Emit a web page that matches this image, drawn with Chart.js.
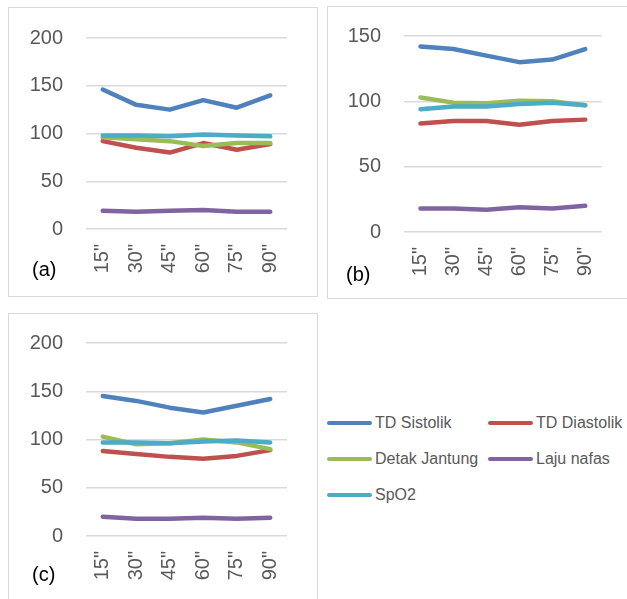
<!DOCTYPE html>
<html lang="id">
<head>
<meta charset="UTF-8">
<title>Tanda vital (a) (b) (c)</title>
<script src="https://cdn.jsdelivr.net/npm/chart.js"></script>
<style>
  * { box-sizing: border-box; margin: 0; padding: 0; }
  body { width: 627px; height: 599px; background: #fff; position: relative; overflow: hidden; font-family: "Liberation Sans", Arial, sans-serif; }
  .panel { position: absolute; border: 1.5px solid #d9d9d9; }
  .wrap { position: absolute; }
  .tag { position: absolute; font-size: 20px; color: #000; }
  .legend { position: absolute; left: 327px; top: 414px; width: 300px; font-size: 16px; color: #595959; }
  .item { position: absolute; display: flex; align-items: center; white-space: nowrap; }
  .sw { width: 45px; height: 4px; border-radius: 2px; margin-right: 3px; }
</style>
</head>
<body>
  <div class="panel" style="left:8px;top:7px;width:310px;height:290px"></div>
  <div class="panel" style="left:327px;top:6px;width:310px;height:293px"></div>
  <div class="panel" style="left:8px;top:313px;width:310px;height:300px"></div>

  <div class="wrap" style="left:9px;top:8px;width:308px;height:289px"><canvas id="chartA"></canvas></div>
  <div class="wrap" style="left:328px;top:7px;width:298px;height:291px"><canvas id="chartB"></canvas></div>
  <div class="wrap" style="left:9px;top:315px;width:308px;height:284px"><canvas id="chartC"></canvas></div>

  <div class="tag" style="left:32px;top:258px">(a)</div>
  <div class="tag" style="left:346px;top:263px">(b)</div>
  <div class="tag" style="left:32px;top:563px">(c)</div>

  <div class="legend" id="legend"></div>

<script>
const labels = ['15"', '30"', '45"', '60"', '75"', '90"'];
const seriesNames = ['TD Sistolik', 'TD Diastolik', 'Detak Jantung', 'Laju nafas', 'SpO2'];
const seriesColors = ['#4f81bd', '#c0504d', '#9bbb59', '#8064a2', '#4bacc6'];

// chart (a)
const sistolikA = [146, 130, 125, 135, 127, 140];
const diastolikA = [92, 85, 80, 90, 83, 89];
const jantungA = [96, 94, 92, 87, 90, 90];
const nafasA = [19, 18, 19, 20, 18, 18];
const spo2A = [98, 98, 97, 99, 98, 97];

// chart (b)
const sistolikB = [142, 140, 135, 130, 132, 140];
const diastolikB = [83, 85, 85, 82, 85, 86];
const jantungB = [103, 99, 98.5, 100.5, 100, 97];
const nafasB = [18, 18, 17, 19, 18, 20];
const spo2B = [94, 96, 96, 98, 99, 97];

// chart (c)
const sistolikC = [145, 140, 133, 128, 135, 142];
const diastolikC = [88, 85, 82, 80, 83, 89];
const jantungC = [103, 95, 96, 100, 97, 90];
const nafasC = [20, 18, 18, 19, 18, 19];
const spo2C = [97, 97, 96, 98, 99, 97];

function makeChart(id, series, yMax, pad, yWidth, xHeight) {
  const datasets = series.map((data, i) => ({
    label: seriesNames[i],
    data: data,
    borderColor: seriesColors[i],
    backgroundColor: seriesColors[i],
    borderWidth: 4.5,
    pointRadius: 0,
    tension: 0,
    borderJoinStyle: 'round',
    borderCapStyle: 'round',
    fill: false,
    order: 5 - i   // later series drawn on top, like Excel
  }));
  return new Chart(document.getElementById(id), {
    type: 'line',
    data: { labels, datasets },
    options: {
      responsive: true,
      maintainAspectRatio: false,
      animation: false,
      layout: { padding: pad },
      plugins: { legend: { display: false }, tooltip: { enabled: false } },
      scales: {
        x: {
          offset: true,
          grid: { display: false, drawTicks: false },
          border: { display: false },
          ticks: {
            minRotation: 90, maxRotation: 90, padding: 15,
            color: '#595959', font: { family: 'Liberation Sans', size: 20 }
          },
          afterFit: s => { s.height = xHeight; }
        },
        y: {
          min: 0, max: yMax,
          // invisible tick marks make the gap; ticks.padding would also push the plot down
          grid: { color: '#d9d9d9', lineWidth: 1.5, drawTicks: true, tickLength: 20, tickColor: 'rgba(0,0,0,0)' },
          border: { display: false },
          ticks: {
            stepSize: 50, padding: 3,
            color: '#595959', font: { family: 'Liberation Sans', size: 20 }
          },
          afterFit: s => { s.width = yWidth; }
        }
      }
    }
  });
}

makeChart('chartA', [sistolikA, diastolikA, jantungA, nafasA, spo2A], 200,
  { left: 0, right: 30, top: 30, bottom: 0 }, 77, 68);
makeChart('chartB', [sistolikB, diastolikB, jantungB, nafasB, spo2B], 150,
  { left: 0, right: 21, top: 29, bottom: 0 }, 76, 66);
makeChart('chartC', [sistolikC, diastolikC, jantungC, nafasC, spo2C], 200,
  { left: 0, right: 30, top: 28, bottom: 0 }, 77, 63);

// legend
const legendPos = [[0, 0], [161, 0], [0, 36], [161, 36], [0, 72]];
const legend = document.getElementById('legend');
seriesNames.forEach((name, i) => {
  const item = document.createElement('div');
  item.className = 'item';
  item.style.left = legendPos[i][0] + 'px';
  item.style.top = legendPos[i][1] + 'px';
  const sw = document.createElement('span');
  sw.className = 'sw';
  sw.style.background = seriesColors[i];
  const tx = document.createElement('span');
  tx.textContent = name;
  item.appendChild(sw);
  item.appendChild(tx);
  legend.appendChild(item);
});
</script>
</body>
</html>
